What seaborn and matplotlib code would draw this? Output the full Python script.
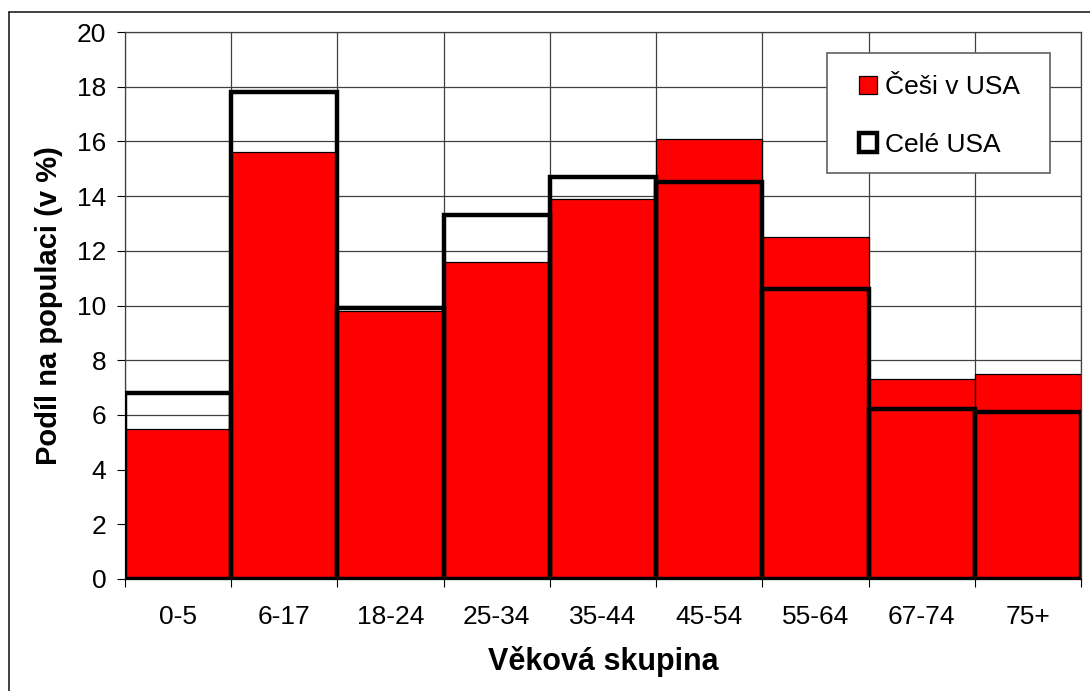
import matplotlib
matplotlib.use("Agg")
import matplotlib.pyplot as plt
import seaborn as sns
import pandas as pd
import numpy as np
from matplotlib.patches import Patch, Rectangle
from matplotlib.lines import Line2D

categories = ["0-5", "6-17", "18-24", "25-34", "35-44", "45-54", "55-64", "67-74", "75+"]
cesi_v_usa = [5.5, 15.6, 9.8, 11.6, 13.9, 16.1, 12.5, 7.3, 7.5]
cele_usa = [6.8, 17.8, 9.9, 13.3, 14.7, 14.5, 10.6, 6.2, 6.1]
y_ticks = [0, 2, 4, 6, 8, 10, 12, 14, 16, 18, 20]

sns.set_theme(style="white")
plt.rcParams["font.family"] = ["Liberation Sans", "DejaVu Sans"]
for k in ["text.color", "axes.labelcolor", "xtick.color", "ytick.color"]:
    plt.rcParams[k] = "black"

df = pd.DataFrame({"cat": categories, "cesi": cesi_v_usa, "cele": cele_usa})

W, H = 1090, 691
fig = plt.figure(figsize=(W / 100, H / 100), dpi=100)
ax = fig.add_axes([125 / W, 1 - 579 / H, (1081 - 125) / W, (579 - 32) / H])

sns.barplot(data=df, x="cat", y="cesi", color="#ff0000", edgecolor="black",
            linewidth=0.9, width=1.0, saturation=1, ax=ax, zorder=2)
sns.barplot(data=df, x="cat", y="cele", color="black", fill=False, edgecolor="black",
            linewidth=3.2, width=1.0, saturation=1, ax=ax, zorder=3)
for p in ax.patches[len(categories):]:
    p.set_facecolor("none")
    p.set_edgecolor("black")
    p.set_linewidth(3.2)
    p.set_joinstyle("miter")

ax.set_xlim(-0.5, len(categories) - 0.5)
ax.set_ylim(0, 20)
ax.set_yticks(y_ticks)
ax.set_xticks(range(len(categories)))
ax.set_xticklabels(categories)
ax.set_xticks(np.arange(-0.5, len(categories), 1.0), minor=True)

ax.tick_params(axis="x", which="major", length=0, pad=19, labelsize=19, colors="black")
ax.tick_params(axis="x", which="minor", length=6, width=0.8, direction="out", bottom=True, color="black")
ax.tick_params(axis="y", which="major", length=5.5, width=0.8, direction="out", left=True,
               labelsize=19, pad=8, color="black", labelcolor="black")

ax.grid(False)
ax.yaxis.grid(True, color="#404040", linewidth=0.9, zorder=0)
ax.xaxis.grid(True, which="minor", color="#404040", linewidth=0.9, zorder=0)
ax.set_axisbelow(True)

for s in ax.spines.values():
    s.set_color("#404040")
    s.set_linewidth(0.9)
ax.spines["bottom"].set_color("black")

ax.set_xlabel("Věková skupina", fontsize=22, fontweight="bold", labelpad=12)
ax.set_ylabel("Podíl na populaci (v %)", fontsize=21, fontweight="bold", labelpad=10)

# legend frame (white box) drawn separately, legend entries placed inside it
ax.add_patch(Rectangle((827 / W, 1 - 173 / H), (1050 - 827) / W, (173 - 53) / H,
                       transform=fig.transFigure, facecolor="white", edgecolor="#606060",
                       linewidth=1.2, zorder=5, clip_on=False))
handles = [Patch(facecolor="#ff0000", edgecolor="black", linewidth=0.9, label="Češi v USA"),
           Patch(facecolor="white", edgecolor="black", linewidth=3.2, label="Celé USA")]
leg = ax.legend(handles=handles, loc="upper left", bbox_to_anchor=(859 / W, 1 - 75 / H),
                bbox_transform=fig.transFigure, fontsize=19, frameon=False,
                handlelength=0.7, handleheight=0.7,
                handletextpad=0.3, labelspacing=1.27, borderpad=0, borderaxespad=0)
leg.set_zorder(6)

fig.add_artist(Line2D([8.5 / W, 1.0], [1 - 12 / H, 1 - 12 / H], transform=fig.transFigure,
                      color="#202020", linewidth=1.2))
fig.add_artist(Line2D([8.5 / W, 8.5 / W], [0.0, 1 - 12 / H], transform=fig.transFigure,
                      color="#202020", linewidth=1.2))

fig.savefig("out.png", dpi=100)
